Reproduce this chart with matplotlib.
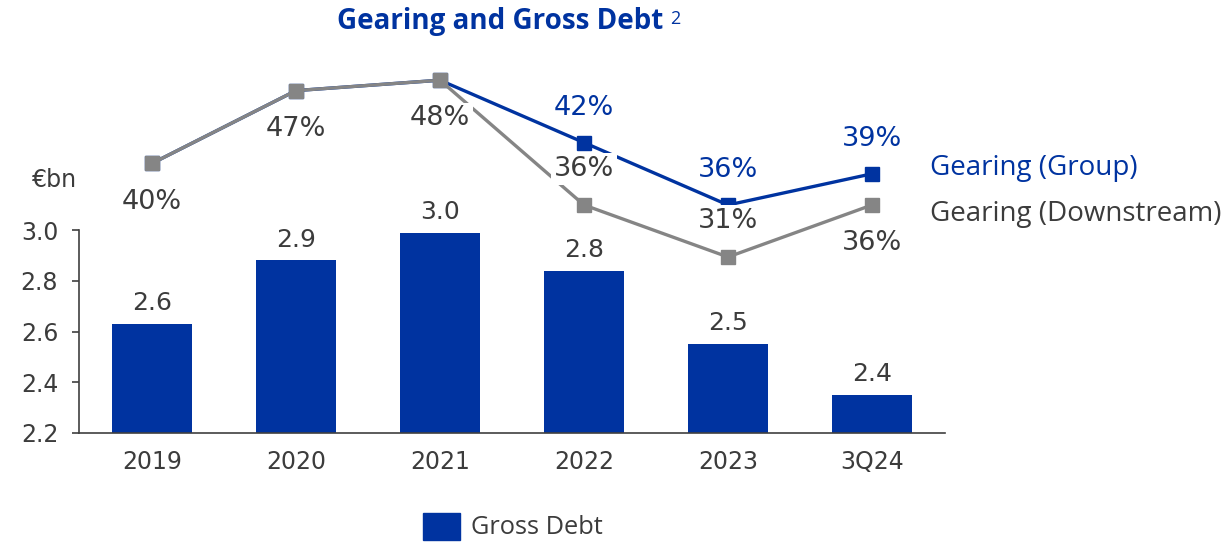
import matplotlib.pyplot as plt
from matplotlib.patches import Rectangle

plt.rcParams['font.family'] = ['Open Sans', 'DejaVu Sans']

# data
categories = ["2019", "2020", "2021", "2022", "2023", "3Q24"]
gross_debt = [2.63, 2.88, 2.99, 2.84, 2.55, 2.35]
debt_labels = ["2.6", "2.9", "3.0", "2.8", "2.5", "2.4"]
gearing_group = [40, 47, 48, 42, 36, 39]
gearing_down = [40, 47, 48, 36, 31, 36]
yticks = [2.2, 2.4, 2.6, 2.8, 3.0]

BLUE = "#0033A0"
GREY = "#858585"
TEXT = "#3C3C3C"
NUM = "DejaVu Sans"  # wide digits like the original

fig = plt.figure(figsize=(12.24, 5.42), dpi=100)
ax = fig.add_axes([79 / 1224, 1 - 433 / 542, (945 - 79) / 1224, (433 - 60) / 542])

x = list(range(len(categories)))
ax.bar(x, gross_debt, width=0.555, color=BLUE, zorder=2)
ax.set_xlim(-0.507, 5.507)
ax.set_ylim(2.2, 2.2 + (433 - 60) / 253.75)

for s in ["top", "right"]:
    ax.spines[s].set_visible(False)
ax.spines["left"].set_bounds(2.2, 3.0)
for s in ["left", "bottom"]:
    ax.spines[s].set_color("#404040")
    ax.spines[s].set_linewidth(1.2)
ax.set_yticks(yticks)
ax.set_yticklabels([f"{t:.1f}" for t in yticks], family=NUM)
ax.set_xticks(x)
ax.set_xticklabels(categories, family=NUM)
ax.tick_params(axis="y", length=5, width=1.2, color="#404040", pad=10,
               labelsize=17, labelcolor=TEXT)
ax.tick_params(axis="x", length=0, pad=12, labelsize=17, labelcolor=TEXT)

ax.text(-0.52, 3.197, "€bn", ha="right", va="center", fontsize=17,
        color=TEXT, family=NUM)

for xi, v, lab in zip(x, gross_debt, debt_labels):
    ax.annotate(lab, (xi, v), xytext=(0, 15), textcoords="offset points",
                ha="center", va="center", fontsize=18, color=TEXT, family=NUM)

# gearing lines on a hidden twin axis
ax2 = ax.twinx()
ax2.set_ylim(36 - 228 / 10.4, 36 + 145 / 10.4)
ax2.axis("off")
ax2.plot(x, gearing_group, color=BLUE, lw=2.4, marker="s", ms=10, zorder=3)
ax2.plot(x, gearing_down, color=GREY, lw=2.4, marker="s", ms=10, zorder=4)

box = dict(boxstyle="square,pad=0.1", fc="white", ec="none")
# group labels (above), only where they differ
for xi in [3, 4, 5]:
    ax2.annotate(f"{gearing_group[xi]}%", (xi, gearing_group[xi]), xytext=(0, 25),
                 textcoords="offset points", ha="center", va="center",
                 fontsize=19.5, color=BLUE, family=NUM, zorder=6)
# downstream labels
down_offsets = [27.5, 27.5, 27.5, -26, -26, 27.5]
for xi, v, off in zip(x, gearing_down, down_offsets):
    ax2.annotate(f"{v}%", (xi, v), xytext=(0, -off), textcoords="offset points",
                 ha="center", va="center", fontsize=19.5, color=TEXT, family=NUM,
                 bbox=box, zorder=5)

# direct series labels
fig.text(930 / 1224, 1 - 168 / 542, "Gearing (Group)", ha="left", va="center",
         fontsize=20, color=BLUE)
fig.text(930 / 1224, 1 - 214 / 542, "Gearing (Downstream)", ha="left", va="center",
         fontsize=20, color=TEXT)

# title
fig.text(663 / 1224, 1 - 22 / 542, "Gearing and Gross Debt", ha="right", va="center",
         fontsize=20, fontweight="bold", color=BLUE)
fig.text(670 / 1224, 1 - 19 / 542, "2", ha="left", va="center", fontsize=13, color=BLUE)

# legend for bars
fig.patches.append(Rectangle((423 / 1224, 1 - 540 / 542), 37 / 1224, 27 / 542,
                             transform=fig.transFigure, color=BLUE))
fig.text(471 / 1224, 1 - 528 / 542, "Gross Debt", ha="left", va="center",
         fontsize=18.3, color=TEXT)

fig.savefig("out.png", dpi=100)
